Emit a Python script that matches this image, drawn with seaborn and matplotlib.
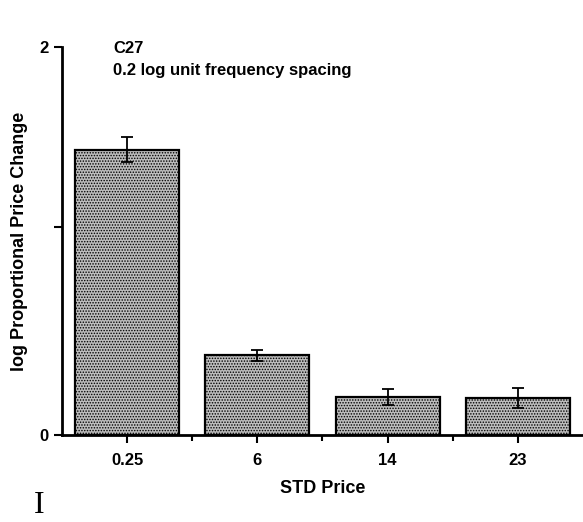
import matplotlib
matplotlib.use("Agg")
import matplotlib.pyplot as plt
import seaborn as sns
import numpy as np

# Data
categories = ["0.25", "6", "14", "23"]
values = [1.47, 0.41, 0.195, 0.19]
errors = [0.065, 0.03, 0.04, 0.05]

sns.set_style("ticks")
plt.rcParams['font.family'] = ['Liberation Sans', 'DejaVu Sans']
plt.rcParams['text.color'] = 'black'
plt.rcParams['axes.labelcolor'] = 'black'
plt.rcParams['xtick.color'] = 'black'
plt.rcParams['ytick.color'] = 'black'
plt.rcParams['axes.edgecolor'] = 'black'
plt.rcParams['hatch.color'] = '#4a4a4a'
plt.rcParams['hatch.linewidth'] = 0.7

fig = plt.figure(figsize=(5.83, 5.22), dpi=100)
ax = fig.add_axes([0.1063, 0.1667, 0.8937, 0.7433])

sns.barplot(x=categories, y=values, width=0.8, color='#bdbdbd',
            edgecolor='black', linewidth=1.6, saturation=1, ax=ax)
for p in ax.patches:
    p.set_hatch('......')

ax.errorbar(range(len(categories)), values, yerr=errors, fmt='none',
            ecolor='black', elinewidth=1.3, capsize=4, capthick=1.3)

ax.set_xlim(-0.5, 3.5)
ax.set_ylim(0, 2)
ax.set_yticks([0, 1.07, 2])
ax.set_yticklabels(['0', '', '2'])
ax.set_xticks([0.5, 1.5, 2.5], minor=True)
ax.tick_params(axis='both', which='major', direction='out', length=6, width=1.5,
               labelsize=12, colors='black')
ax.tick_params(axis='x', which='major', pad=7)
ax.tick_params(axis='x', which='minor', direction='out', length=4, width=1.5)
for lab in ax.get_xticklabels() + ax.get_yticklabels():
    lab.set_fontweight('bold')

sns.despine(ax=ax)
ax.spines['left'].set_linewidth(2)
ax.spines['bottom'].set_linewidth(2)

ax.set_xlabel('STD Price', fontsize=13, fontweight='bold')
ax.set_ylabel('log Proportional Price Change', fontsize=13, fontweight='bold')
ax.xaxis.set_label_coords(0.5, -0.115)
ax.yaxis.set_label_coords(-0.066, 0.5)

ax.text(0.098, 0.995, 'C27', transform=ax.transAxes, fontsize=12, fontweight='bold', va='center')
ax.text(0.098, 0.94, '0.2 log unit frequency spacing', transform=ax.transAxes,
        fontsize=12, fontweight='bold', va='center')

fig.text(0.067, 0.018, 'I', fontsize=23, family=['Liberation Serif', 'DejaVu Serif'], ha='center')

fig.savefig('out.png', dpi=100)
